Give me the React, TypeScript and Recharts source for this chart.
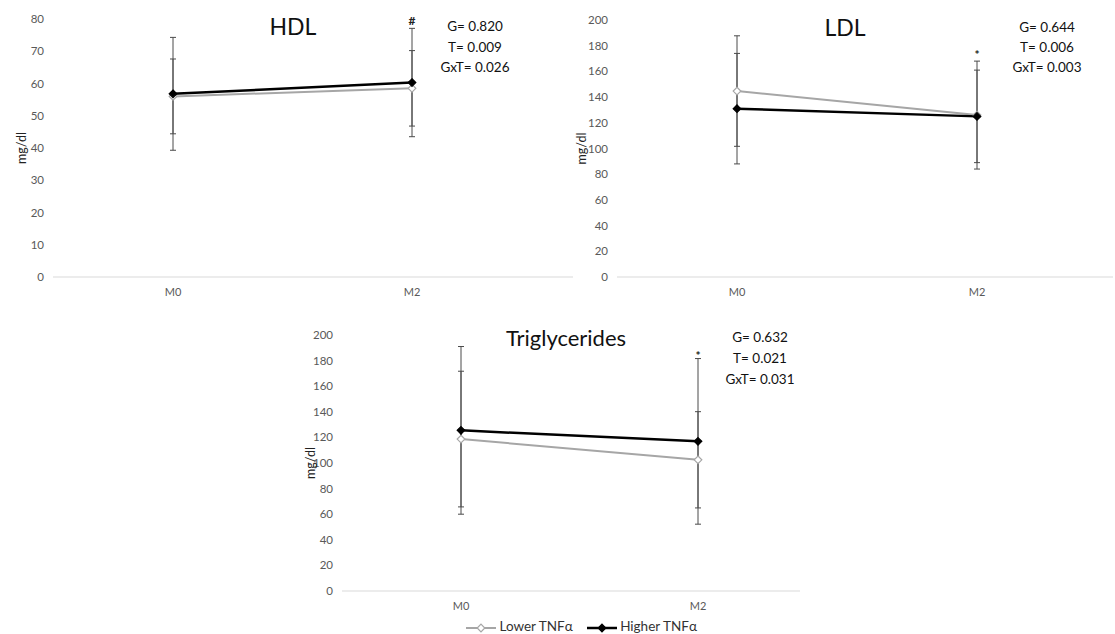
import { ErrorBar, Legend, Line, LineChart, ReferenceDot, XAxis, YAxis } from "recharts";

// time points
const categories = ["M0", "M2"];

// HDL (mg/dl) mean and SD
const hdlLower = [56.0, 58.5];
const hdlLowerSd = [11.6, 11.7];
const hdlHigher = [56.8, 60.3];
const hdlHigherSd = [17.5, 16.8];

// LDL (mg/dl)
const ldlLower = [144.7, 126];
const ldlLowerSd = [43, 42];
const ldlHigher = [131, 125];
const ldlHigherSd = [43, 36];

// Triglycerides (mg/dl)
const tgLower = [118.7, 102.5];
const tgLowerSd = [53, 37.6];
const tgHigher = [125.5, 116.9];
const tgHigherSd = [65.5, 64.7];

const hdlTicks = [0, 10, 20, 30, 40, 50, 60, 70, 80];
const lipidTicks = [0, 20, 40, 60, 80, 100, 120, 140, 160, 180, 200];

const seriesNames = ["Lower TNFα", "Higher TNFα"];

const hdlStats = ["G= 0.820", "T= 0.009", "GxT= 0.026"];
const ldlStats = ["G= 0.644", "T= 0.006", "GxT= 0.003"];
const tgStats = ["G= 0.632", "T= 0.021", "GxT= 0.031"];

const FONT = "Lato, 'Open Sans', sans-serif";
const GREY = "#a6a6a6";
const BAR = "#4a4a4a";

function buildRows(lower: number[], lowerSd: number[], higher: number[], higherSd: number[]) {
  return categories.map((time, i) => ({
    time,
    lower: lower[i],
    lowerSd: lowerSd[i],
    higher: higher[i],
    higherSd: higherSd[i],
  }));
}

const diamond = (fill: string, stroke: string) => (props: any) => {
  const { cx, cy, index } = props;
  if (cx == null || cy == null) return <g key={`d-${index}`} />;
  const s = 3.8;
  return (
    <path
      key={`d-${index}`}
      d={`M${cx},${cy - s}L${cx + s},${cy}L${cx},${cy + s}L${cx - s},${cy}Z`}
      fill={fill}
      stroke={stroke}
      strokeWidth={1.2}
    />
  );
};

function LegendIcon({ fill, stroke }: { fill: string; stroke: string }) {
  return (
    <svg width={30} height={12} style={{ verticalAlign: "middle" }}>
      <line x1={0} y1={6} x2={30} y2={6} stroke={stroke} strokeWidth={fill === "#000" ? 2.5 : 2} />
      <path d="M15,2.2L18.8,6L15,9.8L11.2,6Z" fill={fill} stroke={stroke} strokeWidth={1.2} />
    </svg>
  );
}

function renderLegend() {
  return (
    <div style={{ fontFamily: FONT, fontSize: 13.5, color: "#333", height: 16, lineHeight: "16px", whiteSpace: "nowrap" }}>
      <span style={{ marginRight: 14 }}>
        <LegendIcon fill="#fff" stroke={GREY} /> {seriesNames[0]}
      </span>
      <span>
        <LegendIcon fill="#000" stroke="#000" /> {seriesNames[1]}
      </span>
    </div>
  );
}

type PanelProps = {
  rows: ReturnType<typeof buildRows>;
  ticks: number[];
  left: number;
  top: number;
  width: number;
  height: number;
  margin: { top: number; right: number; bottom: number; left: number };
  yWidth: number;
  padding: { left: number; right: number };
  xHeight: number;
  mark: string;
  markY: number;
  legend?: boolean;
};

function Panel(p: PanelProps) {
  const max = p.ticks[p.ticks.length - 1];
  return (
    <div style={{ position: "absolute", left: p.left, top: p.top }}>
      <LineChart width={p.width} height={p.height} data={p.rows} margin={p.margin}>
        <XAxis
          dataKey="time"
          padding={p.padding}
          tickLine={false}
          axisLine={{ stroke: "#d9d9d9" }}
          tickSize={0}
          tickMargin={11}
          height={p.xHeight}
          tick={{ fontSize: 11, fill: "#595959", fontFamily: FONT }}
        />
        <YAxis
          domain={[0, max]}
          ticks={p.ticks}
          interval={0}
          axisLine={false}
          tickLine={false}
          tickSize={0}
          tickMargin={9}
          width={p.yWidth}
          tick={{ fontSize: 11.5, fill: "#595959", fontFamily: FONT }}
          label={{
            value: "mg/dl",
            angle: -90,
            position: "center",
            dx: -p.yWidth / 2 + 9,
            style: { fontSize: 12.5, fill: "#222", fontFamily: FONT },
          }}
        />
        <Line
          dataKey="lower"
          name={seriesNames[0]}
          stroke={GREY}
          strokeWidth={2}
          dot={diamond("#fff", GREY)}
          isAnimationActive={false}
        >
          <ErrorBar dataKey="lowerSd" width={3} stroke={BAR} strokeWidth={1} direction="y" />
        </Line>
        <Line
          dataKey="higher"
          name={seriesNames[1]}
          stroke="#000"
          strokeWidth={2.5}
          dot={diamond("#000", "#000")}
          isAnimationActive={false}
        >
          <ErrorBar dataKey="higherSd" width={3} stroke={BAR} strokeWidth={1} direction="y" />
        </Line>
        <ReferenceDot
          x="M2"
          y={p.markY}
          r={1}
          fill="none"
          stroke="none"
          label={{ value: p.mark, position: "center", style: { fontSize: 12, fontWeight: 700, fill: "#222", fontFamily: FONT } }}
        />
        {p.legend ? (
          <Legend
            verticalAlign="bottom"
            align="left"
            content={renderLegend}
            wrapperStyle={{ left: 176, height: 16, width: 270 }}
          />
        ) : null}
      </LineChart>
    </div>
  );
}

function Overlay({ x, y, text, size, lineGap }: { x: number; y: number; text: string[]; size: number; lineGap?: number }) {
  return (
    <div
      style={{
        position: "absolute",
        left: x - 100,
        top: y,
        width: 200,
        textAlign: "center",
        fontFamily: FONT,
        fontSize: size,
        lineHeight: `${lineGap ?? size * 1.2}px`,
        color: "#111",
      }}
    >
      {text.map((t) => (
        <div key={t}>{t}</div>
      ))}
    </div>
  );
}

export default function App() {
  const hdlRows = buildRows(hdlLower, hdlLowerSd, hdlHigher, hdlHigherSd);
  const ldlRows = buildRows(ldlLower, ldlLowerSd, ldlHigher, ldlHigherSd);
  const tgRows = buildRows(tgLower, tgLowerSd, tgHigher, tgHigherSd);

  return (
    <div style={{ position: "absolute", left: 0, top: 0, width: 1115, height: 634, background: "#fff", overflow: "hidden" }}>
      <Panel
        rows={hdlRows}
        ticks={hdlTicks}
        left={0}
        top={0}
        width={580}
        height={310}
        margin={{ top: 19, right: 7, bottom: 3, left: 13 }}
        yWidth={40}
        padding={{ left: 120, right: 161 }}
        xHeight={30}
        mark="#"
        markY={79.5}
      />
      <Panel
        rows={ldlRows}
        ticks={lipidTicks}
        left={560}
        top={0}
        width={555}
        height={310}
        margin={{ top: 20, right: 2, bottom: 3, left: 13 }}
        yWidth={44}
        padding={{ left: 120, right: 136 }}
        xHeight={30}
        mark="*"
        markY={173}
      />
      <Panel
        rows={tgRows}
        ticks={lipidTicks}
        left={290}
        top={320}
        width={530}
        height={314}
        margin={{ top: 15, right: 20, bottom: 0, left: 12 }}
        yWidth={40}
        padding={{ left: 119, right: 102 }}
        xHeight={27}
        mark="*"
        markY={184}
        legend
      />
      <Overlay x={293} y={13} text={["HDL"]} size={23} />
      <Overlay x={845} y={14} text={["LDL"]} size={23} />
      <Overlay x={566} y={325} text={["Triglycerides"]} size={22} />
      <Overlay x={475} y={16} text={hdlStats} size={13.5} lineGap={20.5} />
      <Overlay x={1047} y={17} text={ldlStats} size={13.5} lineGap={20} />
      <Overlay x={760} y={327} text={tgStats} size={13.5} lineGap={21} />
    </div>
  );
}
